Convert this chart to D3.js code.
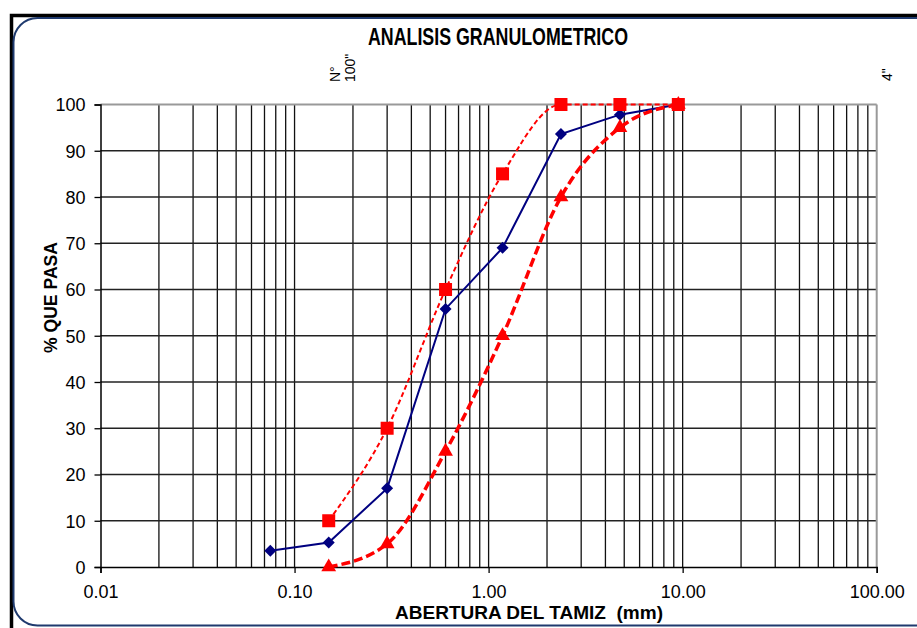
<!DOCTYPE html>
<html><head><meta charset="utf-8">
<script src="https://cdn.jsdelivr.net/npm/d3@7"></script>
<style>body{margin:0;background:#fff}svg{display:block}</style>
</head><body>
<svg id="c" width="917" height="628"></svg>
<script>
const sieves = [0.075, 0.15, 0.30, 0.60, 1.18, 2.36, 4.75, 9.50];
const muestra = [3.5, 5.3, 17, 55.8, 69, 93.6, 97.8, 100];
const limSupX = [0.15, 0.30, 0.60, 1.18, 2.36, 4.75, 9.50];
const limSup = [10, 30, 60, 85, 100, 100, 100];
const limInfX = [0.15, 0.30, 0.60, 1.18, 2.36, 4.75, 9.50];
const limInf = [0, 5, 25, 50, 80, 95, 100];
const xTicks = [0.01, 0.1, 1, 10, 100];
const xTickLabels = ["0.01", "0.10", "1.00", "10.00", "100.00"];
const yTicks = [0,10,20,30,40,50,60,70,80,90,100];

const svg = d3.select("#c");
const L = 100.5, R = 876.7, T = 104.5, B = 567;
const x = d3.scaleLog().domain([0.01, 100]).range([L, R]);
const y = d3.scaleLinear().domain([0, 100]).range([B, T]);
const FONT = "Liberation Sans, Arial, sans-serif";

// frame
svg.append("path").attr("d", `M11.5,628 V15.5 H917`).attr("fill","none").attr("stroke","#000").attr("stroke-width",3.5);
svg.append("rect").attr("x",13.5).attr("y",18).attr("width",926).attr("height",607.5).attr("rx",24)
  .attr("fill","none").attr("stroke","#1f3a6e").attr("stroke-width",2);

// grid
const minor = [];
for (let d = 0.01; d < 100; d *= 10) for (let k = 2; k <= 9; k++) minor.push(+(d*k).toPrecision(3));
const g = svg.append("g");
g.selectAll("line.v").data(minor.concat([0.1,1,10])).join("line")
  .attr("x1", d=>x(d)).attr("x2", d=>x(d)).attr("y1", T).attr("y2", B)
  .attr("stroke","#111").attr("stroke-width",1.3);
g.selectAll("line.h").data(yTicks.filter(v=>v>0 && v<100)).join("line")
  .attr("x1", L).attr("x2", R).attr("y1", d=>y(d)).attr("y2", d=>y(d))
  .attr("stroke","#222").attr("stroke-width",1.5);
svg.append("line").attr("x1",L).attr("x2",R).attr("y1",T).attr("y2",T).attr("stroke","#999").attr("stroke-width",2);
svg.append("line").attr("x1",R).attr("x2",R).attr("y1",T).attr("y2",B).attr("stroke","#999").attr("stroke-width",2);

// axes
const yAxis = d3.axisLeft(y).tickValues(yTicks).tickSize(6).tickPadding(9).tickFormat(d3.format("d"));
const ya = svg.append("g").attr("transform",`translate(${L},0)`).call(yAxis);
ya.select(".domain").attr("stroke","#000").attr("stroke-width",1.5);
ya.selectAll(".tick line").attr("stroke","#000").attr("stroke-width",1.3);
ya.selectAll("text").attr("font-family",FONT).attr("font-size",18).attr("fill","#000").attr("dy","0.36em");

const xAxis = d3.axisBottom(x).tickValues(xTicks).tickSize(6).tickFormat((d,i)=>xTickLabels[i]);
const xa = svg.append("g").attr("transform",`translate(0,${B})`).call(xAxis);
xa.select(".domain").attr("stroke","#000").attr("stroke-width",1.5);
xa.selectAll(".tick line").attr("stroke","#000").attr("stroke-width",1.3);
xa.selectAll("text").attr("font-family",FONT).attr("font-size",18).attr("fill","#000").attr("y",31).attr("dy",0);

// series
const smooth = d3.line().x(d=>x(d[0])).y(d=>y(d[1])).curve(d3.curveMonotoneX);
const straight = d3.line().x(d=>x(d[0])).y(d=>y(d[1]));
const supData = limSupX.map((v,i)=>[v, limSup[i]]);
const infData = limInfX.map((v,i)=>[v, limInf[i]]);
const mData = sieves.map((v,i)=>[v, muestra[i]]);

svg.append("path").attr("d", straight(mData)).attr("fill","none").attr("stroke","#000080").attr("stroke-width",2);
svg.append("g").selectAll("path").data(mData).join("path")
  .attr("d", d3.symbol(d3.symbolSquare, 72)())
  .attr("transform", d=>`translate(${x(d[0])},${y(d[1])}) rotate(45)`).attr("fill","#000080");

svg.append("path").attr("d", smooth(infData)).attr("fill","none").attr("stroke","#ff0000").attr("stroke-width",3.5).attr("stroke-dasharray","9,4");
svg.append("path").attr("d", smooth(supData)).attr("fill","none").attr("stroke","#ff0000").attr("stroke-width",2).attr("stroke-dasharray","5,3");

svg.append("g").selectAll("path").data(infData).join("path")
  .attr("d", d3.symbol(d3.symbolTriangle, 95)())
  .attr("transform", d=>`translate(${x(d[0])},${y(d[1])})`).attr("fill","#ff0000");
svg.append("g").selectAll("rect").data(supData).join("rect")
  .attr("x", d=>x(d[0])-6.5).attr("y", d=>y(d[1])-6.5).attr("width",13).attr("height",13).attr("fill","#ff0000");

// labels
svg.append("text").attr("x",368).attr("y",45)
  .attr("font-family",FONT).attr("font-weight","bold").attr("font-size",23)
  .attr("textLength",260).attr("lengthAdjust","spacingAndGlyphs")
  .text("ANALISIS GRANULOMETRICO");
svg.append("text").attr("transform","translate(57,353) rotate(-90)")
  .attr("font-family",FONT).attr("font-weight","bold").attr("font-size",17.5)
  .attr("textLength",111).attr("lengthAdjust","spacingAndGlyphs")
  .text("% QUE PASA");
svg.append("text").attr("x",395).attr("y",619)
  .attr("font-family",FONT).attr("font-weight","bold").attr("font-size",19)
  .attr("textLength",268).attr("lengthAdjust","spacingAndGlyphs")
  .attr("xml:space","preserve").text("ABERTURA DEL TAMIZ  (mm)");
const topLab = svg.append("g").attr("font-family",FONT).attr("font-size",14);
topLab.append("text").attr("transform","translate(340,82) rotate(-90)").text("N°");
topLab.append("text").attr("transform","translate(355,82) rotate(-90)").text("100\"");
topLab.append("text").attr("transform","translate(892,81) rotate(-90)").text("4\"");
</script>
</body></html>
